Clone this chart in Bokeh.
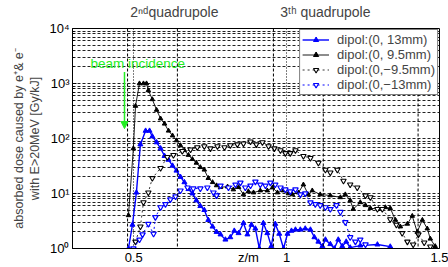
from bokeh.plotting import figure
from bokeh.models import (FixedTicker, CustomJSTickFormatter, Legend, LegendItem,
                          Label, Span, Arrow, NormalHead, LinearAxis)
from bokeh.embed import file_html
from bokeh.resources import INLINE

FONT = "Liberation Sans"

# ---------------- data ----------------
x_ticks = [0.5, 1.0, 1.5]
y_ticks = [1, 10, 100, 1000, 10000]
quad_edges = [0.48, 0.643, 0.957, 1.12, 1.43]
quad_titles = ["2\u207f\u1d48quadrupole", "3\u1d57\u02b0 quadrupole"]
quad_title_pos = [0.633, 1.127]
x_title = "z/m"
x_title_pos = 0.875
y_title = "absorbed dose caused by e\u207a& e\u207b\nwith E>20MeV [Gy/kJ]"

z_pos13 = [0.483, 0.496, 0.509, 0.522, 0.539, 0.552, 0.561, 0.575, 0.588, 0.601, 0.614, 0.627,
           0.640, 0.653, 0.666, 0.679, 0.692, 0.705, 0.718, 0.731, 0.744, 0.758, 0.771, 0.784,
           0.800, 0.816, 0.829, 0.843, 0.859, 0.872, 0.885, 0.898, 0.911, 0.924, 0.937, 0.950,
           0.963, 0.976, 0.990, 1.003, 1.016, 1.029, 1.045, 1.061, 1.078, 1.091, 1.104, 1.117,
           1.127, 1.143, 1.156, 1.169, 1.182, 1.195, 1.208, 1.241, 1.297, 1.339]
d_pos13 = [1.0, 2.7, 10.4, 78, 138, 138, 109, 85, 66, 48, 41, 32,
           26, 20, 16, 12, 10, 7.5, 5.9, 5.0, 3.3, 2.5, 2.0, 1.8,
           1.45, 1.6, 2.1, 1.9, 2.9, 1.8, 2.7, 2.3, 1.0, 2.9, 1.9, 1.1,
           2.8, 1.85, 1.0, 1.85, 2.1, 2.2, 2.2, 2.3, 2.2, 1.6, 1.33, 1.1,
           1.45, 1.2, 1.0, 1.45, 1.1, 1.33, 1.04, 1.13, 1.18, 1.08]

z_pos95 = [0.483, 0.499, 0.506, 0.519, 0.532, 0.542, 0.548, 0.561, 0.575, 0.588, 0.601, 0.614,
           0.627, 0.640, 0.653, 0.666, 0.679, 0.692, 0.705, 0.718, 0.731, 0.744, 0.758, 0.771,
           0.784, 0.807, 0.826, 0.843, 0.859, 0.875, 0.892, 0.914, 0.937, 0.954, 0.970, 0.990,
           1.006, 1.019, 1.039, 1.055, 1.071, 1.084, 1.110, 1.143, 1.176, 1.192, 1.208, 1.218,
           1.241, 1.258, 1.274, 1.300, 1.323, 1.339, 1.356, 1.372, 1.395, 1.411, 1.427, 1.444,
           1.460, 1.470, 1.486]
d_pos95 = [4.0, 66, 390, 1000, 1000, 1000, 750, 515, 330, 230, 185, 138,
           113, 92, 75, 61, 50, 42, 36, 30, 27, 19, 16, 14,
           13, 13.3, 11.8, 13, 9.6, 10.9, 10.4, 11.3, 11.3, 12.8, 10.4, 11.3,
           10, 9.6, 10.4, 14.5, 9.6, 11.3, 9.6, 9.2, 8.5, 9.6, 7.5, 5.2,
           6.9, 6.1, 5.4, 5.2, 5.6, 5.4, 3.3, 2.5, 2.8, 3.9, 2.0, 3.3,
           2.3, 1.5, 1.1]

z_neg95 = [0.506, 0.522, 0.532, 0.548, 0.561, 0.588, 0.610, 0.630, 0.659, 0.686, 0.708, 0.731,
           0.751, 0.774, 0.797, 0.816, 0.839, 0.859, 0.882, 0.901, 0.921, 0.941, 0.960, 0.980,
           0.996, 1.012, 1.029, 1.055, 1.078, 1.104, 1.127, 1.143, 1.166, 1.186, 1.208, 1.231,
           1.258, 1.274, 1.297, 1.313, 1.339, 1.359, 1.378, 1.395, 1.414, 1.431, 1.450, 1.470]
d_neg95 = [1.33, 2.5, 6.9, 10.4, 19, 29, 46, 50, 59, 63, 69, 72,
           66, 72, 69, 75, 78, 81, 88, 78, 85, 72, 66, 61,
           54, 54, 61, 48, 44, 36, 27, 24, 27, 17, 14.5, 12.8,
           9.2, 8.5, 5.2, 5.2, 3.4, 2.7, 1.9, 1.33, 1.18, 1.8, 1.28, 1.08]

z_neg13 = [0.499, 0.519, 0.529, 0.548, 0.565, 0.571, 0.588, 0.604, 0.620, 0.637, 0.653, 0.676,
           0.695, 0.718, 0.741, 0.761, 0.771, 0.784, 0.810, 0.833, 0.849, 0.865, 0.882, 0.898,
           0.914, 0.931, 0.947, 0.963, 0.980, 0.996, 1.012, 1.029, 1.045, 1.061, 1.078, 1.094,
           1.110, 1.127, 1.143, 1.163, 1.176, 1.192, 1.208, 1.225, 1.241, 1.258]
d_neg13 = [1.0, 1.45, 1.8, 2.8, 1.85, 3.7, 5.6, 6.4, 7.8, 8.8, 11.3, 12.8,
           12.3, 12.3, 12.8, 10.4, 9.2, 13.9, 12.8, 14.5, 15.7, 12.8, 13.9, 16.4,
           14.5, 13.9, 15.7, 14.5, 12.8, 11.8, 10.9, 11.8, 9.6, 10, 6.9, 6.4,
           6.1, 5.6, 5.2, 6.1, 4.6, 3.0, 1.6, 1.33, 1.45, 1.18]

labels = ["dipol:(0, 13mm)", "dipol:(0, 9.5mm)", "dipol:(0,\u22129.5mm)", "dipol:(0,\u221213mm)"]

BLUE = "#0000ff"
BLACK = "#000000"
GREEN = "#22ee22"

# ---------------- figure ----------------
p = figure(width=448, height=267, y_axis_type="log", x_range=(0.3, 1.5), y_range=(1, 1e4),
           output_backend="svg", toolbar_location=None,
           min_border_left=72, min_border_right=9, min_border_top=28, min_border_bottom=0)
p.background_fill_color = "white"
p.border_fill_color = "white"
p.outline_line_color = "black"
p.outline_line_width = 1
p.outline_line_alpha = 1

# bottom axis: tick labels plus the axis title in the same row
p.xaxis.ticker = FixedTicker(ticks=x_ticks + [x_title_pos])
p.xaxis.formatter = CustomJSTickFormatter(
    args=dict(tpos=x_title_pos, ttext=x_title),
    code="if (Math.abs(tick - tpos) < 1e-6) { return ttext; } return String(tick);")
p.yaxis.ticker = FixedTicker(ticks=y_ticks,
                             minor_ticks=[m * 10 ** e for e in range(4) for m in range(2, 10)])
p.yaxis.formatter = CustomJSTickFormatter(code="""
const s = {"0":"\u2070","1":"\u00b9","2":"\u00b2","3":"\u00b3","4":"\u2074"};
const e = Math.round(Math.log10(tick));
return "10" + s[String(e)];
""")
for ax in (p.xaxis[0], p.yaxis[0]):
    ax.axis_line_color = "black"
    ax.major_tick_line_color = "black"
    ax.major_tick_out = 0
    ax.minor_tick_out = 0
    ax.major_label_text_font = FONT
    ax.major_label_text_font_size = "13px"
    ax.major_label_text_color = "black"
p.xaxis.major_tick_in = 0
p.xaxis.minor_tick_line_color = None
p.xaxis.major_label_standoff = 1
p.yaxis.major_tick_in = 4
p.yaxis.minor_tick_in = 2
p.yaxis.major_label_standoff = 3
p.yaxis.axis_label = y_title
p.yaxis.axis_label_text_font = FONT
p.yaxis.axis_label_text_font_size = "12.5px"
p.yaxis.axis_label_text_font_style = "normal"
p.yaxis.axis_label_standoff = 4

# top axis carrying the quadrupole titles
top = LinearAxis(ticker=FixedTicker(ticks=quad_title_pos),
                 formatter=CustomJSTickFormatter(
                     args=dict(pos=quad_title_pos, txt=quad_titles),
                     code="return tick < (pos[0] + pos[1]) / 2 ? txt[0] : txt[1];"),
                 axis_line_color=None, major_tick_line_color=None, minor_tick_line_color=None,
                 major_label_text_font=FONT, major_label_text_font_size="14px",
                 major_label_standoff=3)
p.add_layout(top, "above")

# grids
p.xgrid.ticker = FixedTicker(ticks=x_ticks)
p.xgrid.grid_line_color = "black"
p.xgrid.grid_line_dash = "1 2"
p.xgrid.grid_line_width = 1
p.ygrid.grid_line_color = "#222222"
p.ygrid.grid_line_dash = "3 2"
p.ygrid.grid_line_width = 1
p.ygrid.minor_grid_line_color = "#222222"
p.ygrid.minor_grid_line_dash = "3 2"
p.ygrid.minor_grid_line_width = 1

# quadrupole boundaries
for q in quad_edges:
    p.add_layout(Span(location=q, dimension="height", line_color="black",
                      line_dash="3 2", line_width=1))

# series
r1l = p.line(z_pos13, d_pos13, line_color=BLUE, line_width=1.4)
r1m = p.scatter(z_pos13, d_pos13, marker="triangle", size=5, line_color=BLUE, fill_color=BLUE)
r2l = p.line(z_pos95, d_pos95, line_color=BLACK, line_width=0.9)
r2m = p.scatter(z_pos95, d_pos95, marker="triangle", size=4.5, line_color=BLACK, fill_color=BLACK)
r3l = p.line(z_neg95, d_neg95, line_color=BLACK, line_width=0.8, line_dash="2 3")
r3m = p.scatter(z_neg95, d_neg95, marker="inverted_triangle", size=5.5, line_color=BLACK,
                fill_color="white", line_width=1.1)
r4l = p.line(z_neg13, d_neg13, line_color=BLUE, line_width=1.0, line_dash="2 3")
r4m = p.scatter(z_neg13, d_neg13, marker="inverted_triangle", size=5.5, line_color=BLUE,
                fill_color="white", line_width=1.2)

legend = Legend(items=[LegendItem(label=labels[0], renderers=[r1l, r1m]),
                       LegendItem(label=labels[1], renderers=[r2l, r2m]),
                       LegendItem(label=labels[2], renderers=[r3l, r3m]),
                       LegendItem(label=labels[3], renderers=[r4l, r4m])],
                location="top_right", margin=1, padding=2, spacing=0,
                glyph_width=27, glyph_height=13, label_height=13, label_standoff=8,
                label_text_font=FONT, label_text_font_size="13px",
                border_line_color="black", border_line_width=1,
                background_fill_color="white", background_fill_alpha=1)
p.add_layout(legend)

# beam incidence annotation
p.add_layout(Label(x=0.359, y=10 ** 3.36, text="beam incidence", text_color=GREEN,
                   text_font=FONT, text_font_size="13.5px", text_baseline="middle"))
p.add_layout(Arrow(x_start=0.47, y_start=10 ** 3.21, x_end=0.47, y_end=10 ** 2.18,
                   line_color=GREEN, line_width=1.5,
                   end=NormalHead(size=7, fill_color=GREEN, line_color=GREEN)))

open("out.html", "w").write(file_html(p, INLINE))
